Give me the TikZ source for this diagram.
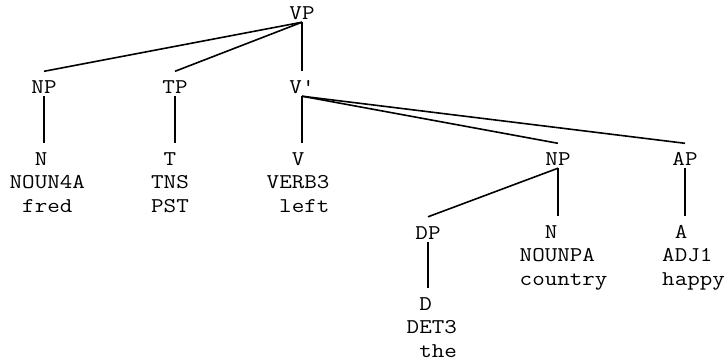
\documentclass[tikz,border=0pt]{standalone}
\usepackage{fontspec}
\setmonofont{Latin Modern Mono}[FakeStretch=1.16]
\newcommand{\padch}{\hphantom{0}}
\tikzset{
  cat/.style={font=\ttfamily\fontsize{21}{23.5}\selectfont, inner sep=0pt, text height=22pt, text depth=2.5pt, anchor=base},
  leaf/.style={cat, align=left, text height=69pt, anchor=north west},
  branch/.style={line width=1.6pt}
}

\begin{document}
\begin{tikzpicture}[x=1pt,y=-1pt]
  \useasboundingbox (0,0) rectangle (727,362);
  %категории
  \node[cat] (vp) at (302,19.5) {VP};
  \node[cat] (np) at (44,93.5) {NP};
  \node[cat] (tp) at (175,93.5) {TP};
  \node[cat] (vbar) at (302,93.5) {V'};
  \node[cat] (np2) at (558,165.5) {NP};
  \node[cat] (ap) at (685,165.5) {AP};
  \node[cat] (dp) at (428,239) {DP};
  %листья
  \node[leaf] (noun1) at (9.5,143) {\padch\padch N\\NOUN4A\\\padch fred};
  \node[leaf] (tns) at (151,143) {\padch T\\TNS\\PST};
  \node[leaf] (verb) at (266.5,143) {\padch\padch V\\VERB3\\\padch left};
  \node[leaf] (noun2) at (519.5,216) {\padch\padch N\\NOUNPA\\country};
  \node[leaf] (adj) at (662,216) {\padch A\\ADJ1\\happy};
  \node[leaf] (det) at (406.5,288) {\padch D\\DET3\\\padch the};
  %ветви
  \draw[branch] (vp.south) -- (np.north);
  \draw[branch] (vp.south) -- (tp.north);
  \draw[branch] (vp.south) -- (vbar.north);
  \draw[branch] (vbar.south) -- (np2.north);
  \draw[branch] (vbar.south) -- (ap.north);
  \draw[branch] (np2.south) -- (dp.north);
  \draw[branch] (np.south) -- (np.south |- noun1.north);
  \draw[branch] (tp.south) -- (tp.south |- tns.north);
  \draw[branch] (vbar.south) -- (vbar.south |- verb.north);
  \draw[branch] (np2.south) -- (np2.south |- noun2.north);
  \draw[branch] (ap.south) -- (ap.south |- adj.north);
  \draw[branch] (dp.south) -- (dp.south |- det.north);
\end{tikzpicture}
\end{document}
